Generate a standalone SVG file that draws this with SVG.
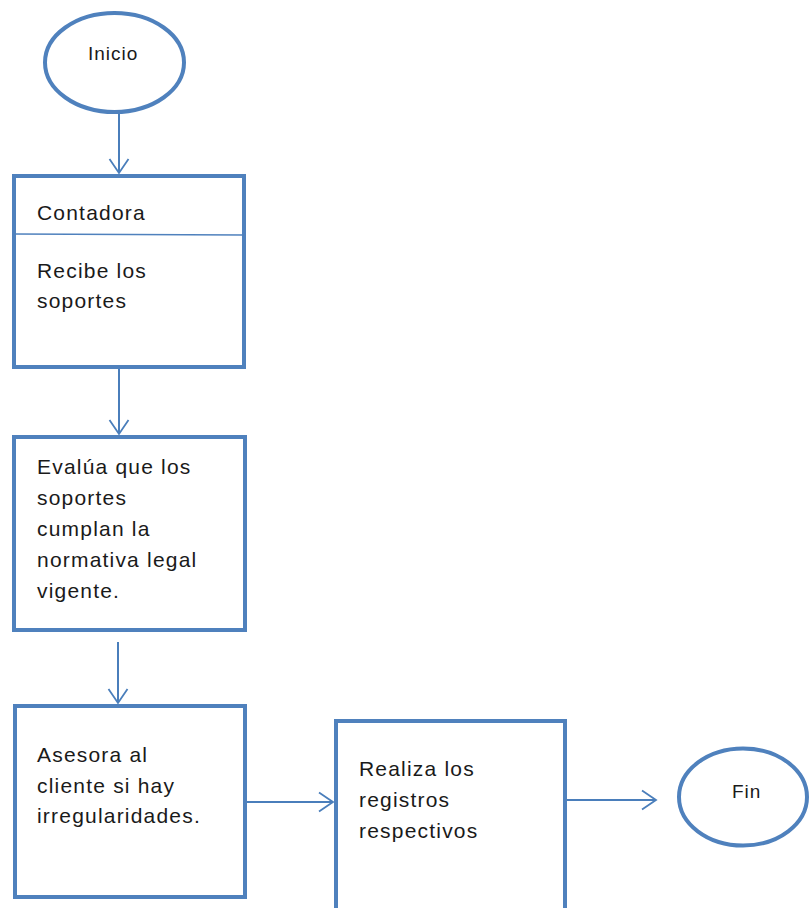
<svg xmlns="http://www.w3.org/2000/svg" width="809" height="908" viewBox="0 0 809 908">
  <defs>
    <marker id="arrow" viewBox="0 0 18 22" refX="16" refY="11" markerWidth="18" markerHeight="22" markerUnits="userSpaceOnUse" orient="auto">
      <path d="M2,1.5 L16,11 L2,20.5" fill="none" stroke="#4a7ebb" stroke-width="1.8"/>
    </marker>
    <style>
      .shape { fill: #ffffff; stroke: #4f81bd; stroke-width: 4; }
      .divider { stroke: #4f81bd; stroke-width: 1.5; }
      .conn { fill: none; stroke: #4a7ebb; stroke-width: 2; marker-end: url(#arrow); }
      .lbl { font-family: "Liberation Sans", Arial, sans-serif; font-size: 21px; letter-spacing: 1.2px; fill: #1a1a1a; }
      .small { font-size: 19px; letter-spacing: 1px; }
    </style>
  </defs>
  <rect width="809" height="908" fill="#ffffff"/>

  <!-- connectors -->
  <g id="connectors">
    <line class="conn" x1="119" y1="113" x2="119" y2="173"/>
    <line class="conn" x1="119" y1="369" x2="119" y2="434"/>
    <line class="conn" x1="118" y1="642" x2="118" y2="703"/>
    <line class="conn" x1="245" y1="802" x2="333" y2="802"/>
    <line class="conn" x1="567" y1="800" x2="656" y2="800"/>
  </g>

  <g id="inicio">
    <ellipse class="shape" cx="114.5" cy="62.5" rx="69.5" ry="49.5"/>
    <text class="lbl small" x="88" y="60">Inicio</text>
  </g>

  <g id="contadora">
    <rect class="shape" x="14" y="176" width="230" height="191"/>
    <line class="divider" x1="14" y1="234" x2="244" y2="235"/>
    <text class="lbl" x="37" y="220">Contadora</text>
    <text class="lbl" x="37" y="278">Recibe los</text>
    <text class="lbl" x="37" y="308">soportes</text>
  </g>

  <g id="evalua">
    <rect class="shape" x="14" y="437" width="231" height="193"/>
    <text class="lbl" x="37" y="474">Evalúa que los</text>
    <text class="lbl" x="37" y="505">soportes</text>
    <text class="lbl" x="37" y="536">cumplan la</text>
    <text class="lbl" x="37" y="567">normativa legal</text>
    <text class="lbl" x="37" y="598">vigente.</text>
  </g>

  <g id="asesora">
    <rect class="shape" x="15" y="706" width="230" height="191"/>
    <text class="lbl" x="37" y="762">Asesora al</text>
    <text class="lbl" x="37" y="793">cliente si hay</text>
    <text class="lbl" x="37" y="823">irregularidades.</text>
  </g>

  <g id="realiza">
    <rect class="shape" x="336" y="721" width="229" height="200"/>
    <text class="lbl" x="359" y="776">Realiza los</text>
    <text class="lbl" x="359" y="807">registros</text>
    <text class="lbl" x="359" y="838">respectivos</text>
  </g>

  <g id="fin">
    <ellipse class="shape" cx="743" cy="797" rx="64" ry="48.5"/>
    <text class="lbl small" x="732" y="798">Fin</text>
  </g>
</svg>
